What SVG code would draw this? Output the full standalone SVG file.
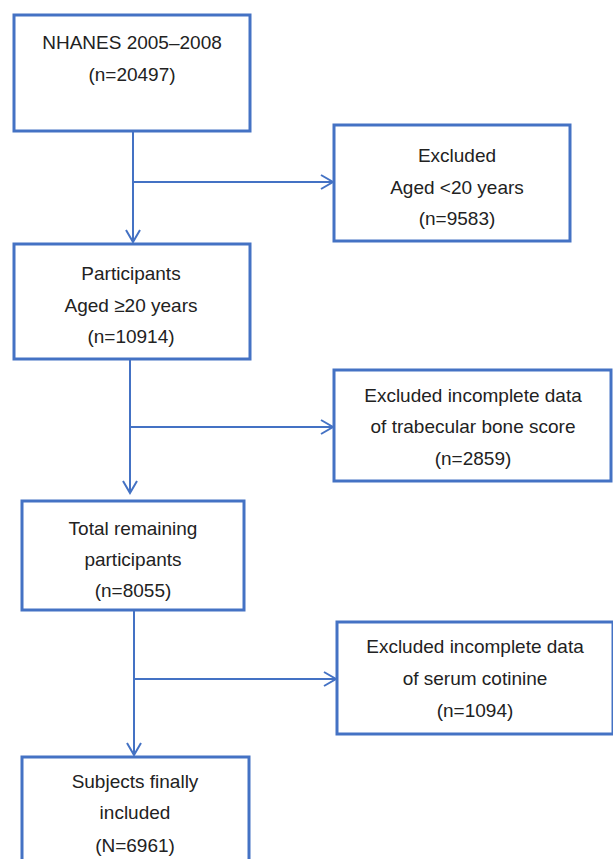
<svg xmlns="http://www.w3.org/2000/svg" width="613" height="859" viewBox="0 0 613 859">
<style>
.box{fill:#fff;stroke:#4472C4;stroke-width:3}
.t{font-family:"Liberation Sans",Arial,sans-serif;font-size:19px;fill:#222;text-anchor:middle}
.c{fill:none;stroke:#4472C4;stroke-width:2}
</style>
<defs>
<marker id="arr" markerUnits="userSpaceOnUse" markerWidth="16" markerHeight="18" refX="13" refY="8" orient="auto">
<path d="M1,1 L13,8 L1,15" fill="none" stroke="#4472C4" stroke-width="2"/>
</marker>
</defs>
<rect width="613" height="859" fill="#fff"/>
<g id="connectors">
<line class="c" x1="133" y1="131" x2="133" y2="242" marker-end="url(#arr)"/>
<line class="c" x1="133" y1="182" x2="333" y2="182" marker-end="url(#arr)"/>
<line class="c" x1="130" y1="359" x2="130" y2="493" marker-end="url(#arr)"/>
<line class="c" x1="130" y1="427" x2="333" y2="427" marker-end="url(#arr)"/>
<line class="c" x1="134" y1="610" x2="134" y2="755" marker-end="url(#arr)"/>
<line class="c" x1="134" y1="679" x2="336" y2="679" marker-end="url(#arr)"/>
</g>
<g id="n1">
<rect class="box" x="14" y="15" width="236" height="116"/>
<text class="t" x="132" y="49">NHANES 2005–2008</text>
<text class="t" x="132" y="81">(n=20497)</text>
</g>
<g id="n2">
<rect class="box" x="334" y="125" width="236" height="116"/>
<text class="t" x="457" y="162">Excluded</text>
<text class="t" x="457" y="194">Aged &lt;20 years</text>
<text class="t" x="457" y="225">(n=9583)</text>
</g>
<g id="n3">
<rect class="box" x="14" y="244" width="236" height="115"/>
<text class="t" x="131" y="280">Participants</text>
<text class="t" x="131" y="312">Aged ≥20 years</text>
<text class="t" x="131" y="343">(n=10914)</text>
</g>
<g id="n4">
<rect class="box" x="334" y="370" width="277" height="111"/>
<text class="t" x="473" y="402">Excluded incomplete data</text>
<text class="t" x="473" y="433">of trabecular bone score</text>
<text class="t" x="473" y="465">(n=2859)</text>
</g>
<g id="n5">
<rect class="box" x="22" y="501" width="222" height="109"/>
<text class="t" x="133" y="535">Total remaining</text>
<text class="t" x="133" y="566">participants</text>
<text class="t" x="133" y="597">(n=8055)</text>
</g>
<g id="n6">
<rect class="box" x="337" y="622" width="276" height="112"/>
<text class="t" x="475" y="653">Excluded incomplete data</text>
<text class="t" x="475" y="685">of serum cotinine</text>
<text class="t" x="475" y="717">(n=1094)</text>
</g>
<g id="n7">
<rect class="box" x="22" y="757" width="227" height="120"/>
<text class="t" x="135" y="788">Subjects finally</text>
<text class="t" x="135" y="819">included</text>
<text class="t" x="135" y="852">(N=6961)</text>
</g>
</svg>
